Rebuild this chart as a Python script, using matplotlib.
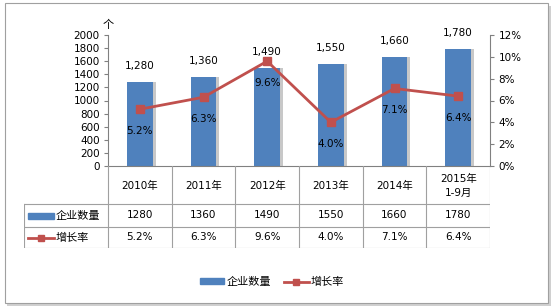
import matplotlib
matplotlib.use("Agg")
import matplotlib.pyplot as plt
from matplotlib.patches import Rectangle
from matplotlib.lines import Line2D
import numpy as np

plt.rcParams['font.family'] = ['DejaVu Sans', 'Noto Sans CJK SC']

categories = ["2010年", "2011年", "2012年", "2013年", "2014年", "2015年\n1-9月"]
counts = [1280, 1360, 1490, 1550, 1660, 1780]
growth = [5.2, 6.3, 9.6, 4.0, 7.1, 6.4]
series_names = ["企业数量", "增长率"]
unit_label = "个"

BLUE = "#4F81BD"
RED = "#C0504D"
W, H = 554, 307

fig = plt.figure(figsize=(W / 100, H / 100), dpi=100)

def fx(px):
    return px / W

def fy(py):
    return 1 - py / H

# outer frame
fig.patches.append(Rectangle((fx(7), fy(306)), fx(544), 300 / H,
                             transform=fig.transFigure, facecolor="#d0d0d0", edgecolor="none", zorder=-3))
fig.patches.append(Rectangle((fx(5), fy(303)), fx(543), 300 / H,
                             transform=fig.transFigure, facecolor="white", edgecolor="#a0a0a0", lw=0.8, zorder=-2))

L, R, T, B = 108, 490, 35, 166
ax = fig.add_axes([fx(L), fy(B), fx(R - L), (B - T) / H])
ax.set_facecolor("none")
x = np.arange(len(categories))
# shadow
ax.bar(x + 0.05, counts, width=0.4, color="#c8c8c8", zorder=1)
ax.bar(x, counts, width=0.4, color=BLUE, zorder=2)
ax.set_xlim(-0.5, len(categories) - 0.5)
ax.set_ylim(0, 2000)
ax.set_yticks(range(0, 2001, 200))
ax.tick_params(axis="y", labelsize=7.5, length=3, direction="out", color="#808080", pad=3)
ax.set_xticks([])
for s in ["top", "right"]:
    ax.spines[s].set_visible(False)
ax.spines["left"].set_color("#808080")
ax.spines["bottom"].set_color("#808080")
for xi, c in zip(x, counts):
    ax.annotate(f"{c:,}", (xi, c), xytext=(0, 8), textcoords="offset points",
                ha="center", va="bottom", fontsize=7.5)
ax.text(0, 1.04, unit_label, transform=ax.transAxes, ha="center", va="bottom",
        fontsize=8, family=["Noto Sans CJK SC"])

ax2 = ax.twinx()
ax2.plot(x, growth, color=RED, lw=2, marker="s", markersize=6, zorder=5)
ax2.set_ylim(0, 12)
ax2.set_yticks(range(0, 13, 2))
ax2.set_yticklabels([f"{v}%" for v in range(0, 13, 2)])
ax2.tick_params(axis="y", labelsize=7.5, length=3, direction="out", color="#808080", pad=3)
for s in ["top", "left", "bottom"]:
    ax2.spines[s].set_visible(False)
ax2.spines["right"].set_color("#808080")
for xi, g in zip(x, growth):
    ax2.annotate(f"{g:.1f}%", (xi, g), xytext=(0, -12), textcoords="offset points",
                 ha="center", va="top", fontsize=7.5)

# data table
TL, TB = 24, 248
unit = (R - L) / len(categories)
tax = fig.add_axes([fx(TL), fy(TB), fx(R - TL), (TB - B) / H])
tax.set_xlim(-0.5 - (L - TL) / unit, len(categories) - 0.5)
tax.set_ylim(TB, B)
tax.axis("off")
lc = "#a0a0a0"
rows_y = [B, 204, 227, TB]
for i in range(len(categories) + 1):
    tax.plot([i - 0.5, i - 0.5], [B, TB], color=lc, lw=0.8)
x0 = -0.5 - (L - TL) / unit
for yy in rows_y[1:]:
    tax.plot([x0, len(categories) - 0.5], [yy, yy], color=lc, lw=0.8)
tax.plot([x0, x0], [204, TB], color=lc, lw=0.8)
for i, cat in enumerate(categories):
    tax.text(i, (B + 204) / 2 + 1, cat, ha="center", va="center", fontsize=7.5, linespacing=1.4)
    tax.text(i, (204 + 227) / 2, str(counts[i]), ha="center", va="center", fontsize=7.5)
    tax.text(i, (227 + TB) / 2, f"{growth[i]:.1f}%", ha="center", va="center", fontsize=7.5)
# legend keys in table
k0 = x0 + 4 / unit
tax.add_patch(Rectangle((k0, 212.5), 26 / unit, 6, color=BLUE))
tax.text(k0 + 28 / unit, (204 + 227) / 2, series_names[0], ha="left", va="center", fontsize=8,
         family=["Noto Sans CJK SC"])
tax.plot([k0, k0 + 26 / unit], [237.5, 237.5], color=RED, lw=2)
tax.plot([k0 + 13 / unit], [237.5], marker="s", color=RED, markersize=5)
tax.text(k0 + 28 / unit, (227 + TB) / 2, series_names[1], ha="left", va="center", fontsize=8,
         family=["Noto Sans CJK SC"])

# legend
handles = [Rectangle((0, 0), 1, 1, color=BLUE),
           Line2D([], [], color=RED, lw=2, marker="s", markersize=5)]
fig.legend(handles, series_names, loc="center", bbox_to_anchor=(fx(272), fy(282)), ncol=2,
           frameon=False, prop={"family": "Noto Sans CJK SC", "size": 8},
           handlelength=2.2, handleheight=0.5, handletextpad=0.2, columnspacing=1.2)

fig.savefig("out.png", dpi=100)
